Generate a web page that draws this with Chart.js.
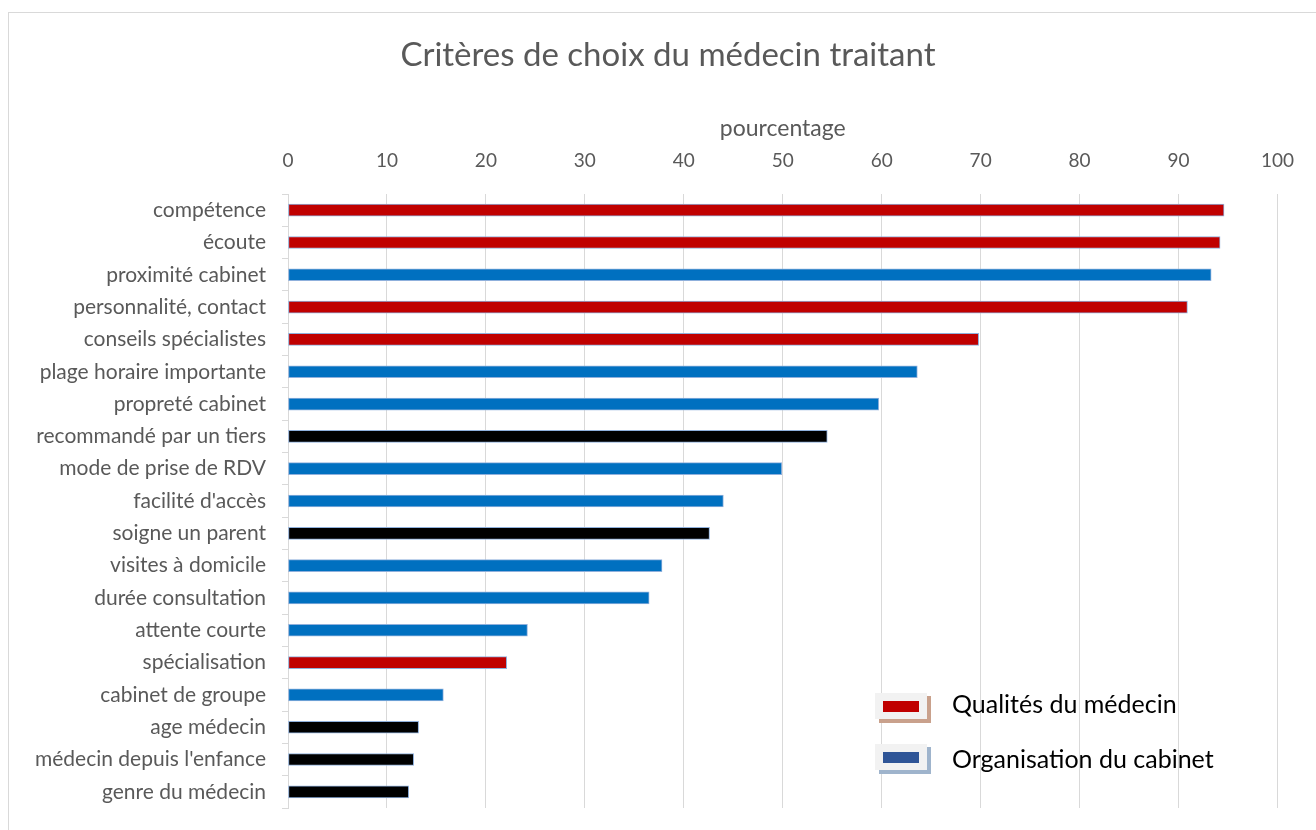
<!DOCTYPE html>
<html>
<head>
<meta charset="utf-8">
<script src="https://cdn.jsdelivr.net/npm/chart.js@4"></script>
<style>
  body { margin: 0; background: #fff; overflow: hidden; }
  .cadre { position: absolute; left: 8px; top: 12px; width: 1400px; height: 900px; border: 1px solid #d9d9d9; }
  canvas { position: absolute; left: 0; top: 0; }
</style>
</head>
<body>
<div class="cadre"></div>
<canvas id="myChart" width="1316" height="830"></canvas>
<script>
// critères (dans l'ordre d'affichage, du haut vers le bas)
const criteres = [
  "compétence", "écoute", "proximité cabinet", "personnalité, contact",
  "conseils spécialistes", "plage horaire importante", "propreté cabinet",
  "recommandé par un tiers", "mode de prise de RDV", "facilité d'accès",
  "soigne un parent", "visites à domicile", "durée consultation",
  "attente courte", "spécialisation", "cabinet de groupe", "age médecin",
  "médecin depuis l'enfance", "genre du médecin"
];
const pourcentages = [94.6, 94.2, 93.3, 90.9, 69.8, 63.6, 59.7, 54.5, 49.9, 44.0,
  42.6, 37.8, 36.5, 24.2, 22.1, 15.7, 13.2, 12.7, 12.2];
// q = qualités du médecin, o = organisation du cabinet, a = autre
const groupes = ["q", "q", "o", "q", "q", "o", "o", "a", "o", "o",
  "a", "o", "o", "o", "q", "o", "a", "a", "a"];
const couleurs = { q: "#c00000", o: "#0070c0", a: "#000000" };

const ticksX = [0, 10, 20, 30, 40, 50, 60, 70, 80, 90, 100];

const titre = "Critères de choix du médecin traitant";
const legendeNoms = ["Qualités du médecin", "Organisation du cabinet"];
const legendeCouleurs = ["#c00000", "#2f5597"];
const legendeOmbres = ["#c9a18c", "#9fb4cc"];

const police = "Lato, 'Open Sans', sans-serif";

// titre + légende dessinés à la main (style Excel avec ombre)
const decorPlugin = {
  id: "decor",
  afterDraw(chart) {
    const ctx = chart.ctx;
    ctx.save();
    ctx.fillStyle = "#595959";
    ctx.font = "33px " + police;
    ctx.textAlign = "center";
    ctx.textBaseline = "middle";
    ctx.fillText(titre, 668, 55);

    ctx.textAlign = "left";
    legendeNoms.forEach((nom, i) => {
      const y = 693 + i * 51;
      ctx.fillStyle = legendeOmbres[i];
      ctx.fillRect(879, y + 3, 52, 27);
      ctx.fillStyle = "#f2f2f2";
      ctx.fillRect(875, y, 52, 26);
      ctx.fillStyle = legendeCouleurs[i];
      ctx.fillRect(883, y + 8, 36, 11);
      ctx.fillStyle = "#000";
      ctx.font = "25px " + police;
      ctx.fillText(nom, 952, y + 12 + (i ? 4 : 0));
    });
    ctx.restore();
  }
};

const ctx = document.getElementById("myChart");

new Chart(ctx, {
  type: "bar",
  data: {
    labels: criteres,
    datasets: [
      {
        label: "pourcentage",
        data: pourcentages,
        backgroundColor: groupes.map(g => couleurs[g]),
        borderColor: "#8fb0dc",
        borderWidth: 1,
        barThickness: 12,
        borderSkipped: false,
      },
    ],
  },
  options: {
    indexAxis: "y",
    responsive: false,
    animation: false,
    layout: { padding: { left: 10, right: 36, top: 83, bottom: 22 } },
    plugins: {
      legend: { display: false },
      tooltip: { enabled: false },
    },
    scales: {
      x: {
        position: "top",
        min: 0,
        max: 100,
        afterBuildTicks(axis) {
          axis.ticks = ticksX.map(v => ({ value: v }));
        },
        afterFit(axis) { axis.height = 111; },
        grid: { color: "#d9d9d9", drawTicks: false },
        border: { display: false },
        ticks: {
          color: "#595959",
          padding: 22,
          font: { family: police, size: 19 },
        },
        title: {
          display: true,
          text: "pourcentage",
          color: "#595959",
          font: { family: police, size: 23 },
          padding: { top: 32, bottom: 0 },
        },
      },
      y: {
        afterFit(axis) {
          axis.width = 278;
          axis.paddingTop = 0;
          axis.paddingBottom = 0;
        },
        grid: {
          offset: true,
          drawOnChartArea: false,
          color: "#d9d9d9",
          tickLength: 6,
        },
        border: { color: "#d9d9d9" },
        ticks: {
          color: "#595959",
          padding: 16,
          autoSkip: false,
          font: { family: police, size: 21 },
        },
      },
    },
  },
  plugins: [decorPlugin],
});
</script>
</body>
</html>
